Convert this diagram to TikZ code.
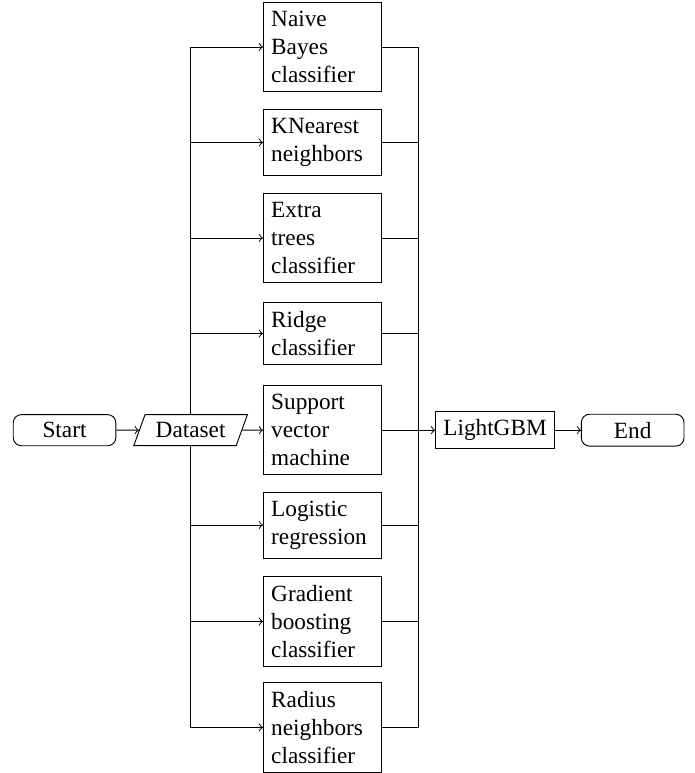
\documentclass[tikz,border=0pt]{standalone}
\usepackage{fontspec}
\setmainfont{Liberation Serif}
\usetikzlibrary{shapes.geometric}

\begin{document}
\begin{tikzpicture}[
    x=1cm, y=1cm,
    term/.style={draw, rounded corners=3.5pt, minimum width=1.55cm},
    io/.style={draw, trapezium, trapezium left angle=70,
      trapezium right angle=110, inner xsep=4.6pt},
    clf/.style={draw, text width=1.55cm, align=left, inner ysep=3.8pt},
    proc/.style={draw},
    flow/.style={->}]

  \useasboundingbox (0,0) rectangle (10.49,11.68);

  % ---- main row ----
  \node[term] (start) at (0.975,5.18) {Start};
  \node[io] (data) at (2.88,5.18) {Dataset};
  \node[proc] (lgbm) at (7.48,5.18) {LightGBM};
  \node[term] (end) at (9.56,5.18) {End};

  % ---- classifier column ----
  \node[clf] (nb) at (4.873,10.97) {Naive\\Bayes\\classifier};
  \node[clf] (knn) at (4.873,9.527) {KNearest\\neighbors};
  \node[clf] (et) at (4.873,8.084) {Extra\\trees\\classifier};
  \node[clf] (rdg) at (4.873,6.641) {Ridge\\classifier};
  \node[clf] (svm) at (4.873,5.18) {Support\\vector\\machine};
  \node[clf] (lr) at (4.873,3.747) {Logistic\\regression};
  \node[clf] (gb) at (4.873,2.289) {Gradient\\boosting\\classifier};
  \node[clf] (rn) at (4.873,0.688) {Radius\\neighbors\\classifier};

  % ---- connectors ----
  \draw[flow] (start) -- (data);
  \draw[flow] (data) -- (svm);
  \foreach \n in {nb,knn,et,rdg,lr,gb,rn}
  \draw[flow] (data) |- (\n);
  \coordinate (join) at (6.316,5.18);
  \foreach \n in {nb,knn,et,rdg,lr,gb,rn}
  \draw (\n) -| (join);
  \draw[flow] (svm) -- (lgbm);
  \draw[flow] (lgbm) -- (end);
\end{tikzpicture}
\end{document}
